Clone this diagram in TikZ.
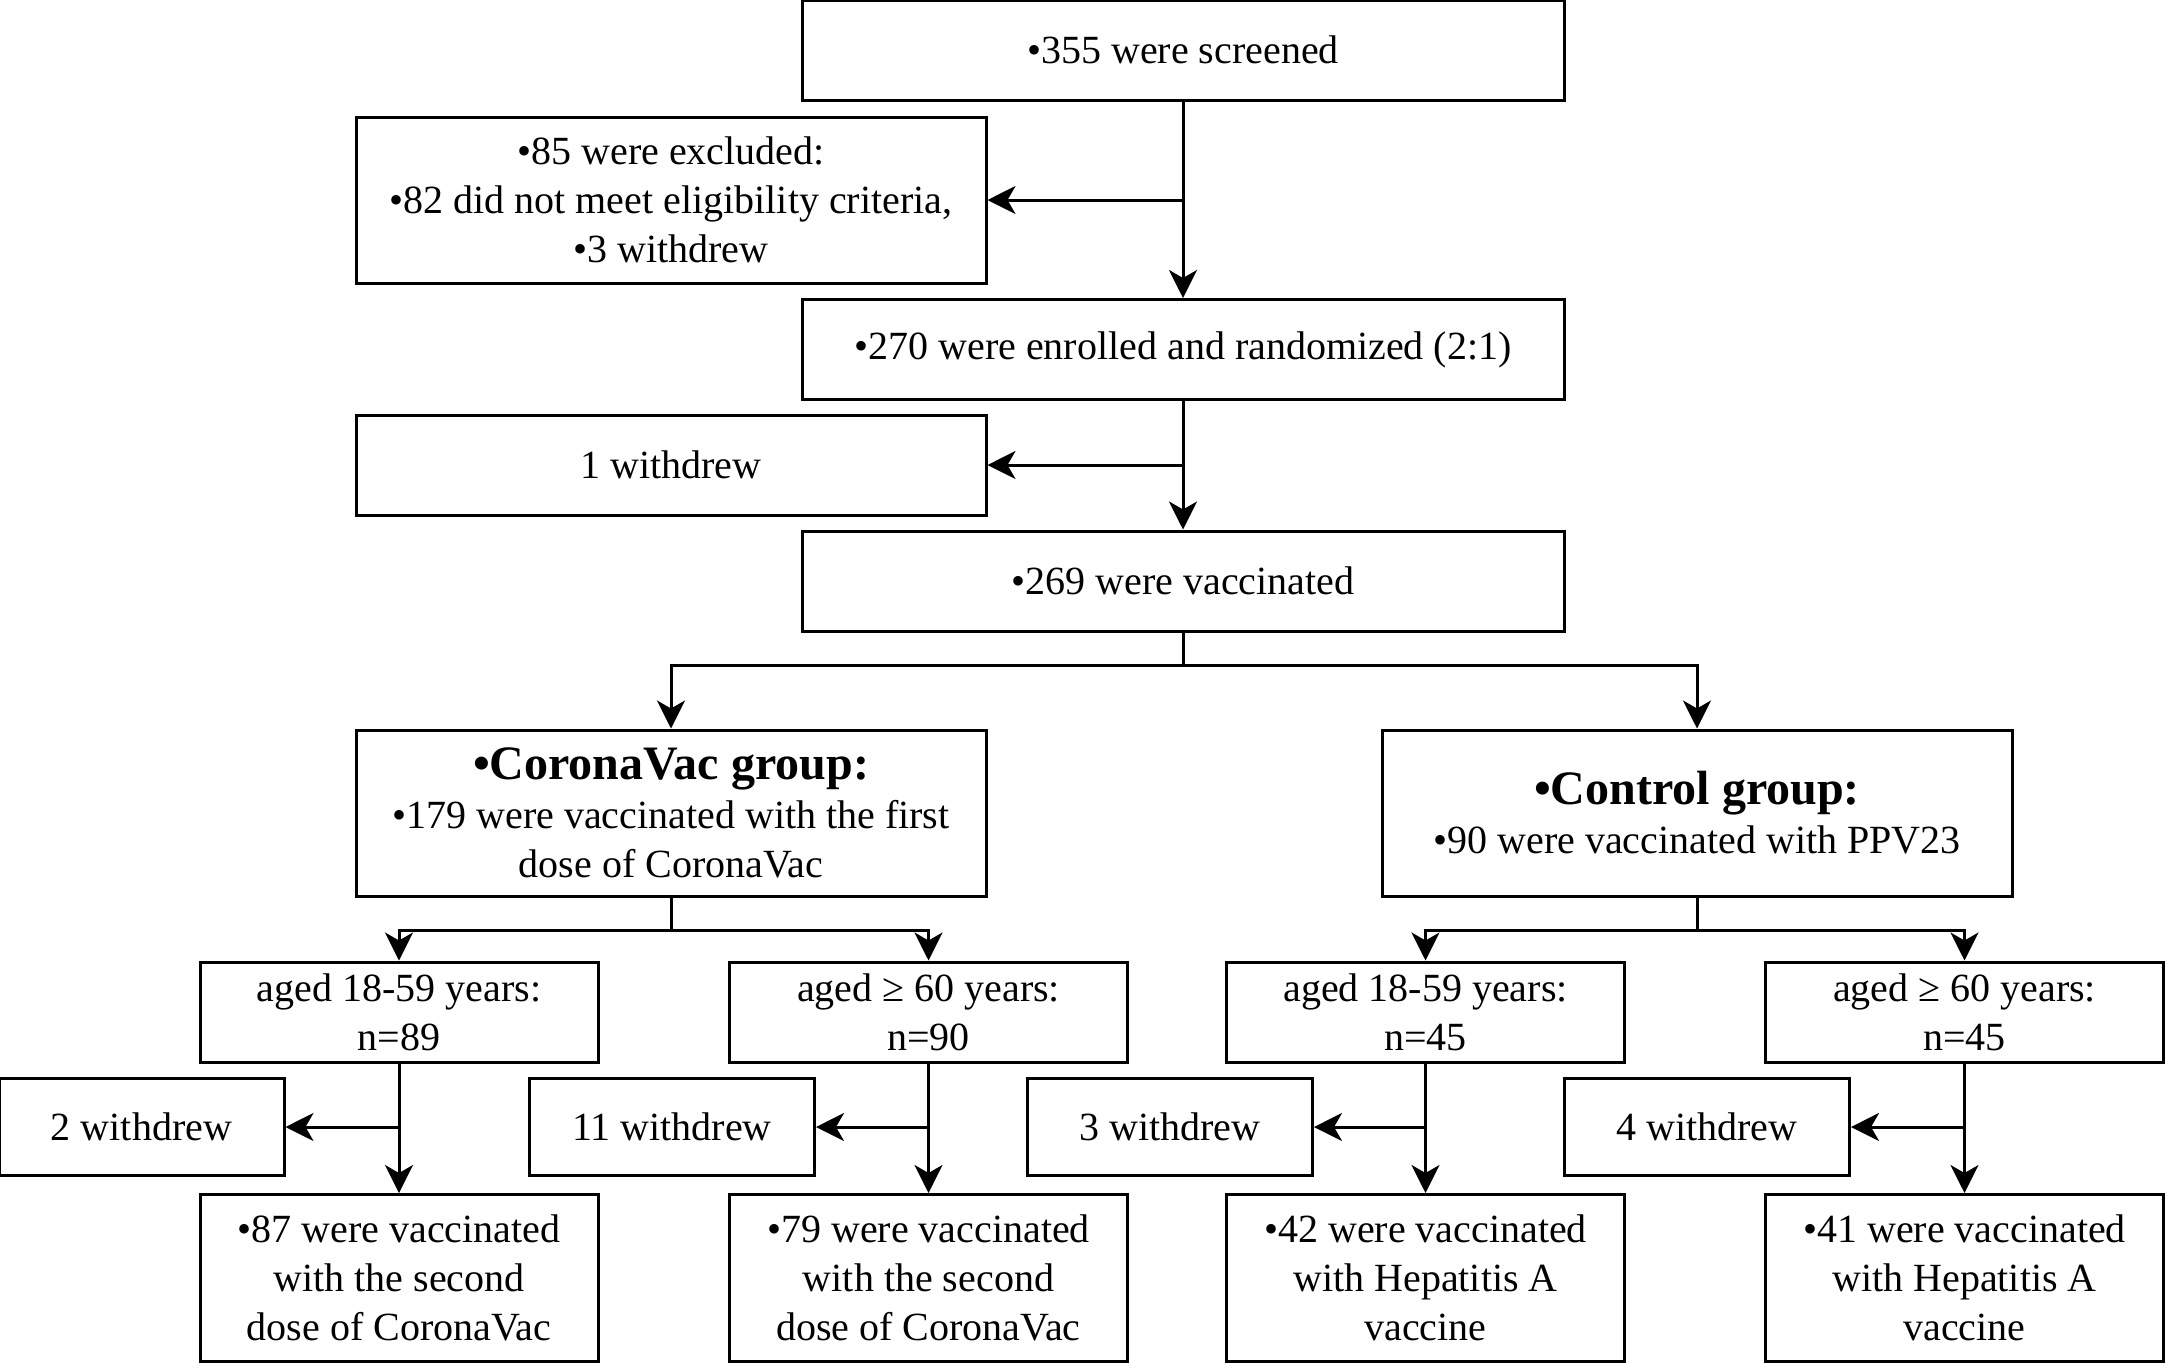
\documentclass[tikz,border=0pt]{standalone}
\usepackage{fontspec}
\setmainfont{Liberation Serif}
\usetikzlibrary{arrows.meta}
\tikzset{
  box/.style={draw, line width=1.5pt, align=center, inner sep=0pt,
    font=\fontsize{20}{24.5}\selectfont},
  widebox/.style={box, minimum width=381pt, minimum height=50pt},
  sidebox/.style={box, minimum width=315pt, minimum height=50pt},
  groupbox/.style={box, minimum width=315pt, minimum height=83pt},
  agebox/.style={box, minimum width=199pt, minimum height=50pt},
  outbox/.style={box, minimum width=142.5pt, minimum height=48.5pt},
  finalbox/.style={box, minimum width=199pt, minimum height=83.5pt},
  flow/.style={line width=1.5pt, -{Stealth[length=14pt, width=14pt, inset=4pt]}}
}
\begin{document}
\begin{tikzpicture}[x=0.5pt, y=-0.5pt]
  \useasboundingbox (0,0) rectangle (2165,1362);
  \draw
    (1183,50) node[widebox] (screened){•355 were screened}
    (671,200) node[sidebox, minimum height=83pt] (excluded){•85 were excluded:\\•82 did not meet eligibility criteria,\\•3 withdrew}
    (1183,349.5) node[widebox] (enrolled){•270 were enrolled and randomized (2:1)}
    (671,465) node[sidebox] (withdrew){1 withdrew}
    (1183,581) node[widebox] (vaccinated){•269 were vaccinated}
    (671,813) node[groupbox] (corona){{\fontsize{24}{30}\selectfont\bfseries •CoronaVac group:}\\•179 were vaccinated with the first\\dose of CoronaVac}
    (1697,813) node[groupbox] (control){{\fontsize{24}{30}\selectfont\bfseries •Control group:}\\•90 were vaccinated with PPV23};
  \draw
    (399,1012) node[agebox] (youngA){aged 18-59 years:\\n=89}
    (928.5,1012) node[agebox] (oldA){aged ≥ 60 years:\\n=90}
    (1425.5,1012) node[agebox] (youngB){aged 18-59 years:\\n=45}
    (1964.5,1012) node[agebox] (oldB){aged ≥ 60 years:\\n=45};
  \draw
    (141.5,1127) node[outbox] (outYA){2 withdrew}
    (672,1127) node[outbox] (outOA){11 withdrew}
    (1170,1127) node[outbox] (outYB){3 withdrew}
    (1707,1127) node[outbox] (outOB){4 withdrew};
  \draw
    (399,1278) node[finalbox] (doseYA){•87 were vaccinated\\with the second\\dose of CoronaVac}
    (928.5,1278) node[finalbox] (doseOA){•79 were vaccinated\\with the second\\dose of CoronaVac}
    (1425.5,1278) node[finalbox] (doseYB){•42 were vaccinated\\with Hepatitis A\\vaccine}
    (1964.5,1278) node[finalbox] (doseOB){•41 were vaccinated\\with Hepatitis A\\vaccine};
  % main line
  \draw[flow] (screened) -- (enrolled);
  \draw[flow] (screened.south |- excluded.east) -- (excluded.east);
  \draw[flow] (enrolled) -- (vaccinated);
  \draw[flow] (enrolled.south |- withdrew.east) -- (withdrew.east);
  % groups
  \draw[flow] (vaccinated.south) -- ++(0,33) -| (corona.north);
  \draw[flow] (vaccinated.south) ++(0,33) -| (control.north);
  \draw[flow] (corona.south) -- ++(0,33) -| (youngA.north);
  \draw[flow] (corona.south) ++(0,33) -| (oldA.north);
  \draw[flow] (control.south) -- ++(0,33) -| (youngB.north);
  \draw[flow] (control.south) ++(0,33) -| (oldB.north);
  % second dose
  \draw[flow] (youngA) -- (doseYA);
  \draw[flow] (youngA.south |- outYA.east) -- (outYA.east);
  \draw[flow] (oldA) -- (doseOA);
  \draw[flow] (oldA.south |- outOA.east) -- (outOA.east);
  \draw[flow] (youngB) -- (doseYB);
  \draw[flow] (youngB.south |- outYB.east) -- (outYB.east);
  \draw[flow] (oldB) -- (doseOB);
  \draw[flow] (oldB.south |- outOB.east) -- (outOB.east);
\end{tikzpicture}
\end{document}
